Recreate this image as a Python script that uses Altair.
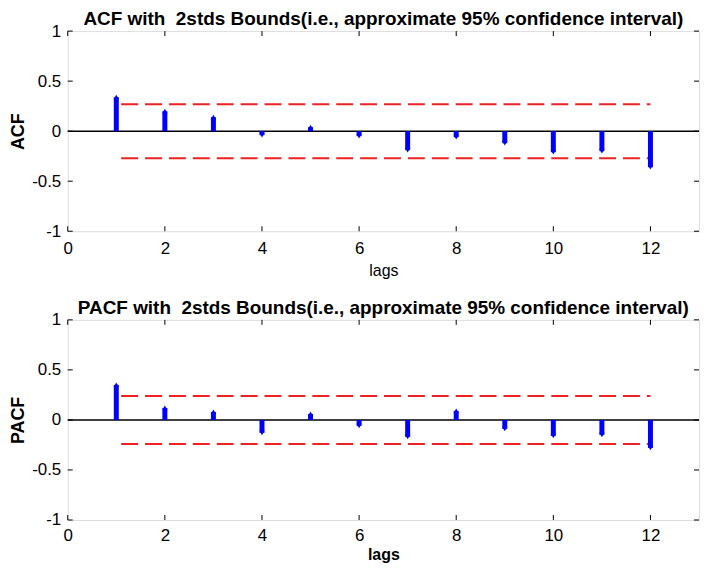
import altair as alt
import pandas as pd

# ---- data ----
lags = list(range(1, 13))
acf_values = [0.34, 0.20, 0.14, -0.04, 0.04, -0.05, -0.19, -0.06, -0.12, -0.21, -0.20, -0.36]
pacf_values = [0.35, 0.12, 0.08, -0.13, 0.06, -0.06, -0.17, 0.09, -0.09, -0.16, -0.15, -0.28]
acf_bound = 0.27
pacf_bound = 0.24
bound_start = 1.1
bound_end = 12.0
x_ticks = [0, 2, 4, 6, 8, 10, 12]
y_ticks = [-1, -0.5, 0, 0.5, 1]
x_domain = [0, 13]
y_domain = [-1, 1]

acf_title = "ACF with\u00a0 2stds Bounds(i.e., approximate 95% confidence interval)"
pacf_title = "PACF with\u00a0 2stds Bounds(i.e., approximate 95% confidence interval)"

W, H = 634, 201
FONT = "Liberation Sans"


def panel(values, bound, title, ylabel, xlabel_bold, label_pad, title_pad):
    xs = alt.Scale(domain=x_domain, nice=False, zero=False)
    ys = alt.Scale(domain=y_domain, nice=False)
    xaxis = alt.Axis(values=x_ticks, title="lags", ticks=False, domain=False, grid=False,
                     labelFont=FONT, labelFontSize=17, labelColor="black", labelPadding=label_pad,
                     titleFont=FONT, titleFontSize=16, titleColor="black",
                     titleFontWeight="bold" if xlabel_bold else "normal", titlePadding=title_pad,
                     labelFlush=False, labelExpr="toString(datum.value)")
    yaxis = alt.Axis(values=y_ticks, title=ylabel, ticks=False, domain=False, grid=False,
                     labelFont=FONT, labelFontSize=17, labelColor="black", labelPadding=7,
                     titleFont=FONT, titleFontSize=18, titleColor="black", titleFontWeight="bold",
                     titlePadding=4, labelFlush=False, labelExpr="toString(datum.value)")

    def X(field):
        return alt.X(field, type="quantitative", scale=xs, axis=xaxis)

    def Y(field):
        return alt.Y(field, type="quantitative", scale=ys, axis=yaxis)

    df = pd.DataFrame({"lag": lags, "value": values})
    df["shape"] = ["triangle-up" if v >= 0 else "triangle-down" for v in values]

    zero_df = pd.DataFrame({"x": [x_domain[0]], "x2": [x_domain[1]], "y": [0]})
    zero = alt.Chart(zero_df).mark_rule(color="black", strokeWidth=1.5).encode(
        x=X("x"), x2="x2", y=Y("y"))

    bnd_df = pd.DataFrame({"x": [bound_start, bound_start], "x2": [bound_end, bound_end],
                           "y": [bound, -bound]})
    bounds = alt.Chart(bnd_df).mark_rule(color="#ee2222", strokeWidth=2,
                                         strokeDash=[17, 7]).encode(
        x=X("x"), x2="x2", y=Y("y"))

    stems = alt.Chart(df).mark_rule(color="#0000ff", strokeWidth=5, strokeCap="butt").encode(
        x=X("lag"), y=Y("value"), y2=alt.datum(0))

    tips = alt.Chart(df).mark_point(filled=True, color="#0000ff", size=30, opacity=1).encode(
        x=X("lag"), y=Y("value"), shape=alt.Shape("shape:N", scale=None))

    yt = pd.DataFrame({"t": y_ticks})
    xt = pd.DataFrame({"t": x_ticks})
    tick_l = alt.Chart(yt).mark_rule(color="black").encode(
        y=Y("t"), x=alt.value(0), x2=alt.value(5))
    tick_r = alt.Chart(yt).mark_rule(color="black").encode(
        y=Y("t"), x=alt.value(W - 5), x2=alt.value(W))
    tick_b = alt.Chart(xt).mark_rule(color="black").encode(
        x=X("t"), y=alt.value(H - 5), y2=alt.value(H))
    tick_t = alt.Chart(xt).mark_rule(color="black").encode(
        x=X("t"), y=alt.value(0), y2=alt.value(5))

    return alt.layer(zero, bounds, stems, tips, tick_l, tick_r, tick_b, tick_t).properties(
        width=W, height=H,
        title=alt.TitleParams(title, font=FONT, fontSize=19, fontWeight="bold",
                              color="black", anchor="middle", offset=-7, frame="group"),
    )


top = panel(acf_values, acf_bound, acf_title, "ACF", False, 9, 6)
bottom = panel(pacf_values, pacf_bound, pacf_title, "PACF", True, 8, 3)

chart = alt.vconcat(top, bottom, spacing=19).properties(
    padding={"left": 1, "top": 0, "right": 0, "bottom": 0},
).configure_view(stroke="black", strokeWidth=1).configure(background="white")

chart.save("out.html", embed_options={"renderer": "svg", "actions": False})
